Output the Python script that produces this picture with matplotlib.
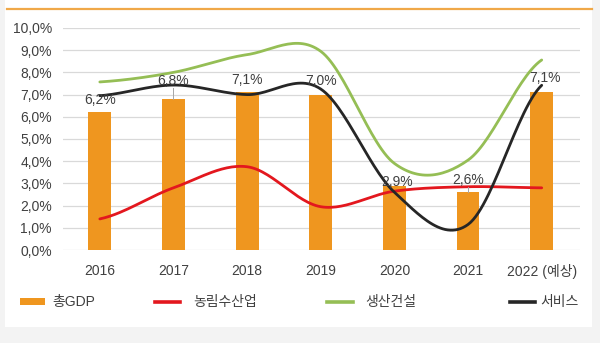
import numpy as np
import matplotlib
matplotlib.use("Agg")
import matplotlib.pyplot as plt
from matplotlib.patches import Rectangle
from matplotlib.lines import Line2D

plt.rcParams['font.family'] = ['Liberation Sans', 'Noto Sans CJK KR']

years = ['2016', '2017', '2018', '2019', '2020', '2021', '2022 (예상)']
gdp = [6.2, 6.8, 7.1, 7.0, 2.9, 2.6, 7.1]
agri = [1.4, 2.8, 3.75, 1.95, 2.65, 2.85, 2.8]
constr = [7.57, 8.0, 8.8, 8.95, 3.9, 4.05, 8.56]
service = [6.95, 7.43, 7.0, 7.25, 2.6, 1.15, 7.42]
gdp_labels = ['6,2%', '6,8%', '7,1%', '7,0%', '2,9%', '2,6%', '7,1%']
series_names = ['총GDP', '농림수산업', '생산건설', '서비스']

C_BAR = '#EF961F'
C_RED = '#E3171E'
C_GREEN = '#95BE55'
C_BLACK = '#262626'
C_TEXT = '#404040'


def smooth(xs, ys, n=30):
    """Catmull-Rom curve through the points (spreadsheet-style smoothed line)."""
    xs = np.asarray(xs, float)
    ys = np.asarray(ys, float)
    tang = np.empty_like(ys)
    tang[1:-1] = (ys[2:] - ys[:-2]) / 2.0
    tang[0] = (ys[1] - ys[0]) / 2.0
    tang[-1] = (ys[-1] - ys[-2]) / 2.0
    t = np.linspace(0, 1, n)
    h00 = 2 * t**3 - 3 * t**2 + 1
    h10 = t**3 - 2 * t**2 + t
    h01 = -2 * t**3 + 3 * t**2
    h11 = t**3 - t**2
    outx, outy = [], []
    for i in range(len(xs) - 1):
        outx.append(xs[i] + t * (xs[i + 1] - xs[i]))
        outy.append(h00 * ys[i] + h10 * tang[i] + h01 * ys[i + 1] + h11 * tang[i + 1])
    return np.concatenate(outx), np.concatenate(outy)


fig = plt.figure(figsize=(6.0, 3.43), dpi=100, facecolor='#F3F3F3')
# white card and orange top rule
fig.patches.append(Rectangle((5 / 600, 1 - 327 / 343), 587 / 600, 327 / 343,
                             transform=fig.transFigure, facecolor='white',
                             edgecolor='none', zorder=-5))
fig.lines.append(Line2D([7 / 600, 592 / 600], [1 - 9 / 343, 1 - 9 / 343],
                        transform=fig.transFigure, color='#F0A848', lw=1.6))

ax = fig.add_axes([63 / 600, 1 - 250 / 343, 517 / 600, 222 / 343])
ax.set_zorder(2)
ax.set_facecolor('none')
x = np.arange(len(years))

ax.bar(x, gdp, width=0.31, color=C_BAR, zorder=2)
for ys_, c in [(agri, C_RED), (constr, C_GREEN), (service, C_BLACK)]:
    sx, sy = smooth(x, ys_)
    ax.plot(sx, sy, color=c, lw=2.0, zorder=3, solid_capstyle='round')

# value labels above the bars
label_dy = [0.56, 0.8, 0.56, 0.6, 0.16, 0.55, 0.65]
label_dx = [0, 0, 0, 0, 0.03, 0, 0.05]
for i, (v, lab) in enumerate(zip(gdp, gdp_labels)):
    ax.text(x[i] + label_dx[i], v + label_dy[i], lab, ha='center', va='center',
            fontsize=10, color=C_TEXT, zorder=4)
    if label_dy[i] > 0.7 or i == 5:
        ax.plot([x[i], x[i]], [v + 0.02, v + label_dy[i] - 0.32],
                color='#A6A6A6', lw=0.7, zorder=4)

ax.set_ylim(0, 10)
ax.set_xlim(-0.5, 6.52)
ax.set_yticks(np.arange(0, 10.01, 1))
ax.set_yticklabels([f'{v:.1f}%'.replace('.', ',') for v in np.arange(0, 10.01, 1)])
ax.set_xticks(x)
ax.set_xticklabels(years)
ax.tick_params(axis='both', length=0, labelsize=10, colors=C_TEXT)
ax.tick_params(axis='y', pad=8)
ax.tick_params(axis='x', pad=10)
ax.grid(axis='y', color='#D9D9D9', lw=0.9, zorder=0)
for s in ax.spines.values():
    s.set_visible(False)

# legend row
ly = 1 - 302 / 343
fig.patches.append(Rectangle((20 / 600, ly - 3 / 343), 25 / 600, 7 / 343,
                             transform=fig.transFigure, facecolor=C_BAR,
                             edgecolor='none'))
fig.text(52 / 600, ly, series_names[0], fontsize=10, color=C_TEXT, va='center')
for (x0, x1, tx), c, name in zip([(155, 180, 193), (327, 353, 365), (510, 535, 540)],
                                 [C_RED, C_GREEN, C_BLACK], series_names[1:]):
    fig.lines.append(Line2D([x0 / 600, x1 / 600], [ly, ly], transform=fig.transFigure,
                            color=c, lw=2.6))
    fig.text(tx / 600, ly, name, fontsize=10, color=C_TEXT, va='center')

fig.savefig('out.png', dpi=100, facecolor=fig.get_facecolor())
